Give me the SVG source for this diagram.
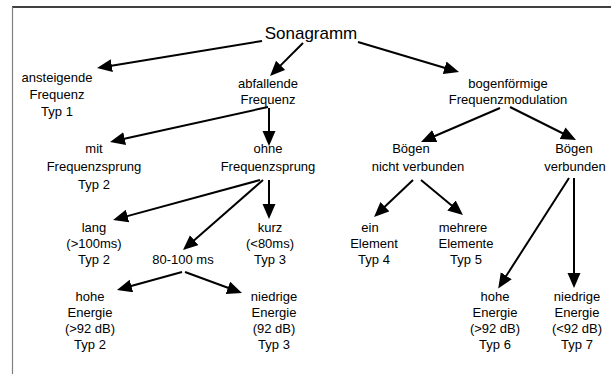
<svg xmlns="http://www.w3.org/2000/svg" width="612" height="374" viewBox="0 0 612 374">
<defs>
<marker id="ah" markerUnits="userSpaceOnUse" markerWidth="16" markerHeight="14" refX="5" refY="6.5" orient="auto">
<path d="M0,0 L15,6.5 L0,13 z" fill="#000"/>
</marker>
<style>
text{font-family:"Liberation Sans",Arial,sans-serif;font-size:13px;fill:#000;text-anchor:middle}
.title{font-size:17px}
.edge{stroke:#000;stroke-width:2;fill:none;marker-end:url(#ah)}
</style>
</defs>
<rect width="612" height="374" fill="#fff"/>
<g id="frame">
<line x1="12" y1="7" x2="611" y2="7" stroke="#000" stroke-width="1.5"/>
<line x1="12.5" y1="7" x2="12.5" y2="374" stroke="#808080" stroke-width="1.2"/>
</g>
<g id="connectors">
<path class="edge" d="M262,41 L106.9,66.4"/>
<path class="edge" d="M303,43 L277.1,68.9"/>
<path class="edge" d="M358,42 L449.4,69.2"/>
<path class="edge" d="M268,107 L119.8,139.8"/>
<path class="edge" d="M269,108 L269,136"/>
<path class="edge" d="M260,180 L122.7,217.4"/>
<path class="edge" d="M263,180 L190.5,243.4"/>
<path class="edge" d="M269,180 L269,209"/>
<path class="edge" d="M182,272 L126.6,287.3"/>
<path class="edge" d="M185,272 L232.6,289.5"/>
<path class="edge" d="M500,108 L430.2,138"/>
<path class="edge" d="M510,107 L567.1,135.5"/>
<path class="edge" d="M413,180 L381.3,210.1"/>
<path class="edge" d="M421,180 L455.3,208.6"/>
<path class="edge" d="M569,178 L503.6,280"/>
<path class="edge" d="M574,178 L574,278"/>
</g>
<g id="n_sonagramm"><text class="title" x="311" y="39">Sonagramm</text></g>
<g id="n_ansteigende"><text x="57" y="82">ansteigende</text><text x="57" y="99">Frequenz</text><text x="57" y="116">Typ 1</text></g>
<g id="n_abfallende"><text x="268" y="88">abfallende</text><text x="268" y="104">Frequenz</text></g>
<g id="n_bogen"><text x="508" y="88">bogenförmige</text><text x="508" y="104">Frequenzmodulation</text></g>
<g id="n_mit"><text x="94" y="153">mit</text><text x="94" y="171">Frequenzsprung</text><text x="94" y="189">Typ 2</text></g>
<g id="n_ohne"><text x="268" y="153">ohne</text><text x="268" y="171">Frequenzsprung</text></g>
<g id="n_nichtverb"><text x="411" y="153">Bögen</text><text x="418" y="171">nicht verbunden</text></g>
<g id="n_verb"><text x="574" y="153">Bögen</text><text x="575" y="171">verbunden</text></g>
<g id="n_lang"><text x="94" y="232">lang</text><text x="94" y="248">(&gt;100ms)</text><text x="94" y="264">Typ 2</text></g>
<g id="n_kurz"><text x="270" y="232">kurz</text><text x="270" y="248">(&lt;80ms)</text><text x="270" y="264">Typ 3</text></g>
<g id="n_ein"><text x="370" y="232">ein</text><text x="374" y="248">Element</text><text x="374" y="264">Typ 4</text></g>
<g id="n_mehrere"><text x="463" y="232">mehrere</text><text x="466" y="248">Elemente</text><text x="466" y="264">Typ 5</text></g>
<g id="n_80100"><text x="183" y="264">80-100 ms</text></g>
<g id="n_hohe1"><text x="90" y="301">hohe</text><text x="90" y="317">Energie</text><text x="90" y="333">(&gt;92 dB)</text><text x="90" y="349">Typ 2</text></g>
<g id="n_niedrig1"><text x="274" y="301">niedrige</text><text x="274" y="317">Energie</text><text x="274" y="333">(92 dB)</text><text x="274" y="349">Typ 3</text></g>
<g id="n_hohe2"><text x="495" y="301">hohe</text><text x="495" y="317">Energie</text><text x="495" y="333">(&gt;92 dB)</text><text x="495" y="349">Typ 6</text></g>
<g id="n_niedrig2"><text x="577" y="301">niedrige</text><text x="577" y="317">Energie</text><text x="577" y="333">(&lt;92 dB)</text><text x="577" y="349">Typ 7</text></g>
</svg>
